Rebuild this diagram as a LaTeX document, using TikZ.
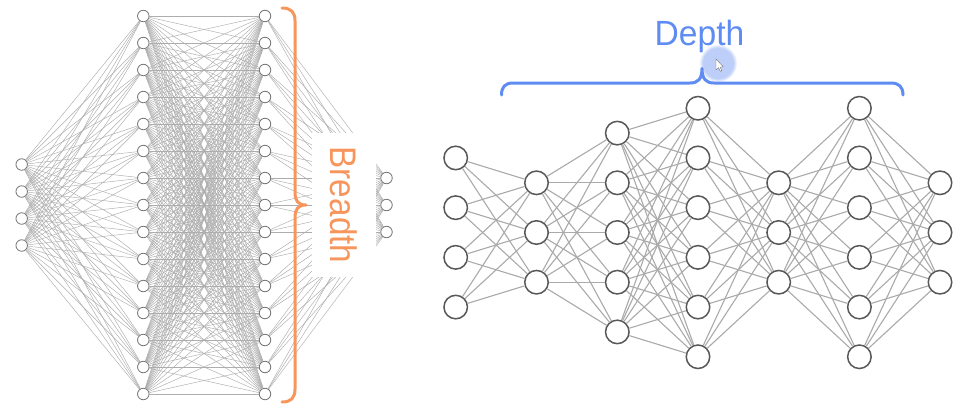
\documentclass[tikz,border=0pt]{standalone}
\usepackage{fontspec}
\setmainfont{Liberation Sans}
\usetikzlibrary{fadings}
\definecolor{corange}{RGB}{247,150,92}
\definecolor{cblue}{RGB}{95,140,242}
\definecolor{rstroke}{RGB}{88,88,88}
\definecolor{rlinec}{RGB}{170,170,170}
\tikzset{
  rnode/.style={circle, draw=rstroke, line width=1.5pt, fill=white, minimum size=23.5pt, inner sep=0pt},
  lnode/.style={circle, draw=black!55, line width=0.8pt, fill=white, minimum size=11.5pt, inner sep=0pt},
  rline/.style={draw=rlinec, line width=1.1pt},
  lline/.style={draw=black!32, line width=0.45pt},
  bracestyle/.style={line width=3pt, line cap=round, line join=round}
}
\begin{document}
\begin{tikzpicture}[x=1pt,y=-1pt]
\useasboundingbox (0,0) rectangle (971,413);
\fill[white] (0,0) rectangle (971,413);

% ---------- left (wide) network ----------
\foreach \i in {1,...,4} \node[lnode] (a\i) at (21.7,{205+(\i-2.5)*27}) {};
\foreach \i in {1,...,15} \node[lnode] (b\i) at (143.3,{205+(\i-8)*27}) {};
\foreach \i in {1,...,15} \node[lnode] (c\i) at (265,{205+(\i-8)*27}) {};
\foreach \i in {1,...,3} \node[lnode] (d\i) at (386.5,{205+(\i-2)*27}) {};
\foreach \i in {1,...,4} \foreach \j in {1,...,15} \draw[lline] (a\i) -- (b\j);
\foreach \i in {1,...,15} \foreach \j in {1,...,15} \draw[lline] (b\i) -- (c\j);
\foreach \i in {1,...,15} \foreach \j in {1,...,3} \draw[lline] (c\i) -- (d\j);
\fill[white] (312,133) rectangle (376,277);

% orange brace
\draw[bracestyle, corange] (282,8) .. controls (291,8) and (295,12) .. (295,21)
  -- (295,192) .. controls (295,201) and (298,205) .. (306,205)
  .. controls (298,205) and (295,209) .. (295,218)
  -- (295,389) .. controls (295,398) and (291,402) .. (282,402);
\node[corange, rotate=-90, anchor=base, inner sep=0pt, font=\fontsize{37}{40}\selectfont] (breadth) at (330,205) {\scalebox{0.9}[1]{Breadth}};

% ---------- right (deep) network ----------
\foreach \L/\n/\x in {1/4/455.7, 2/3/536.5, 3/5/617.3, 4/6/698, 5/3/778.7, 6/6/859.4, 7/3/940}
  \foreach \i in {1,...,\n}
    \node[rnode] (r\L-\i) at (\x,{232.5+(\i-(\n+1)/2)*49.7}) {};
\foreach \L/\n/\M/\m in {1/4/2/3, 2/3/3/5, 3/5/4/6, 4/6/5/3, 5/3/6/6, 6/6/7/3}
  \foreach \i in {1,...,\n}
    \foreach \j in {1,...,\m}
      \draw[rline] (r\L-\i) -- (r\M-\j);

% cursor highlight
\fill[cblue!75, opacity=0.55, path fading=circle with fuzzy edge 20 percent] (718,63) circle (19);

% blue brace
\draw[bracestyle, cblue] (501.5,95) .. controls (501.5,87) and (505,83) .. (513,83)
  -- (690,83) .. controls (698,83) and (702,79) .. (702,68.5)
  .. controls (702,79) and (706,83) .. (714,83)
  -- (891,83) .. controls (899,83) and (903,87) .. (903,95);
\node[cblue, anchor=base, inner sep=0pt, font=\fontsize{35}{38}\selectfont] (depth) at (699.5,45) {\scalebox{0.96}[1]{Depth}};

% cursor
\draw[black!55, fill=white, line width=0.4pt, line join=round] (716,59) -- ++(0,11) -- ++(2.5,-2.4) -- ++(1.8,3.8) -- ++(1.5,-0.7) -- ++(-1.8,-3.7) -- ++(3.4,0) -- cycle;
\end{tikzpicture}
\end{document}
